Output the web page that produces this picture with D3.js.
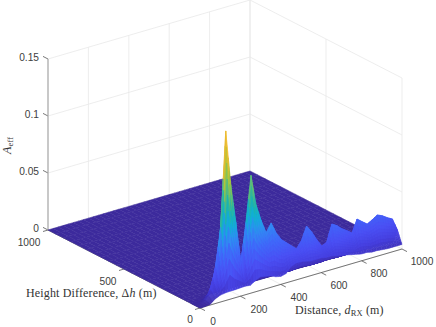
<!DOCTYPE html>
<html>
<head>
<meta charset="utf-8">
<style>
  html, body { margin: 0; padding: 0; background: #fff; }
  svg { display: block; }
  .tick { font-family: "Liberation Sans", Arial, sans-serif; font-size: 10.2px; fill: #404040; }
  .lab { font-family: "Liberation Serif", serif; font-size: 12px; letter-spacing: 0.15px; fill: #333; }
</style>
<script src="https://cdn.jsdelivr.net/npm/d3@7"></script>
</head>
<body>
<svg id="chart" width="436" height="327"></svg>
<script>
const distances = [0, 25, 50, 75, 100, 125, 150, 175, 200, 225, 250, 275, 300, 325, 350, 375, 400, 425, 450, 475, 500,
  525, 550, 575, 600, 625, 650, 675, 700, 725, 750, 775, 800, 825, 850, 875, 900, 925, 950, 975, 1000];
// near edge of the surface, h = 0
const zFront = [0, 0, .0005, .004, .006, .0067, .007, .007, .0073, .0075, .007, .01, .012, .011, .01, .008, .007, .008, .013, .015, .015,
  .014, .013, .013, .013, .012, .012, .011, .01, .009, .008, .007, .006, .006, .005, .005, .0045, .004, .004, .004, .004];
// the ridge, h = 30
const zRidge = [0, .0005, .002, .01, .029, .0625, .1455, .097, .063, .025, .06, .1, .073, .058, .046, .053, .043, .036, .032, .028, .024,
  .03, .0414, .035, .027, .02, .022, .0367, .034, .03, .027, .0237, .0346, .031, .0276, .03, .033, .031, .028, .0256, .0146];
// falling off behind the ridge, h = 60
const zTail = [0, 0, 0, .001, .004, .008, .012, .01, .008, .005, .007, .009, .008, .007, .006, .006, .005, .005, .004, .004, .003,
  .004, .005, .004, .003, .003, .003, .004, .004, .003, .003, .003, .004, .003, .003, .003, .004, .003, .003, .003, .002];
const zFlat = distances.map(() => 0);
const heights = [0, 30, 60, 90, 120, 160, 200, 250, 300, 350, 400, 450, 500, 550, 600, 650, 700, 750, 800, 850, 900, 950, 1000];
const zRows = heights.map((h, i) => i === 0 ? zFront : i === 1 ? zRidge : i === 2 ? zTail : zFlat);

const distTicks = [0, 200, 400, 600, 800, 1000];
const heightTicks = [0, 500, 1000];
const zTicks = [0, 0.05, 0.1, 0.15];
const zTickLabels = ["0", "0.05", "0.1", "0.15"];

const svg = d3.select("#chart");

// oblique 3d view, three scales added up
const dX = d3.scaleLinear().domain([0, 1000]).range([0, 202]);
const dY = d3.scaleLinear().domain([0, 1000]).range([0, -59]);
const hX = d3.scaleLinear().domain([0, 1000]).range([0, -152]);
const hY = d3.scaleLinear().domain([0, 1000]).range([0, -78]);
const zY = d3.scaleLinear().domain([0, 0.15]).range([0, -171]);
const px = (d, h) => 200 + dX(d) + hX(h);
const py = (d, h, z) => 308 + dY(d) + hY(h) + zY(z);

const parula = d3.scaleLinear()
  .domain([0, .03, .08, .15, .25, .35, .42, .5, .6, .7, .8, .9, 1].map(t => t * 0.148))
  .range(["#3c2a9c", "#4034c0", "#4640e0", "#4a50f4", "#4068fa", "#2f8ef2", "#0fafd7", "#1eb4aa", "#64be73", "#abc739", "#e6bb32", "#fec338", "#f9fb15"])
  .clamp(true);

// walls and floor grid
const grid = svg.append("g").attr("fill", "none").attr("stroke", "#e8e8e8").attr("stroke-width", 0.8);
const seg = (a, b) => grid.append("line")
  .attr("x1", px(a[0], a[1])).attr("y1", py(a[0], a[1], a[2]))
  .attr("x2", px(b[0], b[1])).attr("y2", py(b[0], b[1], b[2]));
distTicks.forEach(d => {
  seg([d, 1000, 0], [d, 1000, 0.15]);
  seg([d, 0, 0], [d, 1000, 0]);
});
heightTicks.forEach(h => {
  seg([1000, h, 0], [1000, h, 0.15]);
  seg([0, h, 0], [1000, h, 0]);
});
zTicks.forEach(z => {
  seg([0, 1000, z], [1000, 1000, z]);
  seg([1000, 1000, z], [1000, 0, z]);
});

// axis lines
const axes = svg.append("g").attr("stroke", "#555").attr("stroke-width", 0.8);
const axisSeg = (x1, y1, x2, y2) => axes.append("line")
  .attr("x1", x1).attr("y1", y1).attr("x2", x2).attr("y2", y2);
axisSeg(px(0, 0), py(0, 0, 0), px(1000, 0), py(1000, 0, 0));
axisSeg(px(0, 0), py(0, 0, 0), px(0, 1000), py(0, 1000, 0));
distTicks.forEach(d => axisSeg(px(d, 0), py(d, 0, 0), px(d, 0) + 5, py(d, 0, 0) + 2.6));
heightTicks.forEach(h => axisSeg(px(0, h), py(0, h, 0), px(0, h) - 5, py(0, h, 0) + 1.5));
zTicks.forEach(z => axisSeg(px(0, 1000), py(0, 1000, z), px(0, 1000) - 5, py(0, 1000, z) - 2.6));
axes.append("line")
  .attr("x1", px(0, 1000)).attr("y1", py(0, 1000, 0))
  .attr("x2", px(0, 1000)).attr("y2", py(0, 1000, 0.15))
  .attr("stroke", "#aaa").attr("stroke-width", 1.2);

// surface, far cells first
const surf = svg.append("g");
for (let j = heights.length - 2; j >= 0; j--) {
  for (let i = distances.length - 2; i >= 0; i--) {
    const z00 = zRows[j][i], z10 = zRows[j][i + 1], z01 = zRows[j + 1][i], z11 = zRows[j + 1][i + 1];
    const flat = z00 + z10 + z01 + z11 === 0;
    const nu = flat ? 1 : 2, nv = flat ? 1 : 10; // split cells for the smooth shading
    for (let v = nv - 1; v >= 0; v--) {
      for (let u = nu - 1; u >= 0; u--) {
        const pts = [[u, v], [u + 1, v], [u + 1, v + 1], [u, v + 1]].map(([a, b]) => {
          const s = a / nu, t = b / nv;
          const d = distances[i] + s * (distances[i + 1] - distances[i]);
          const h = heights[j] + t * (heights[j + 1] - heights[j]);
          const z = (1 - s) * (1 - t) * z00 + s * (1 - t) * z10 + (1 - s) * t * z01 + s * t * z11;
          return { x: px(d, h), y: py(d, h, z), z };
        });
        const c = parula(d3.mean(pts, p => p.z));
        surf.append("polygon")
          .attr("points", pts.map(p => `${p.x},${p.y}`).join(" "))
          .attr("fill", c)
          .attr("stroke", c)
          .attr("stroke-width", 0.5);
      }
    }
  }
}

// tick labels
const distLabelPos = [[213, 321], [259, 309], [299, 297], [339, 285], [379, 273], [422, 261]];
const heightLabelPos = [[190, 319], [108, 281], [29, 242]];
distTicks.forEach((d, i) => svg.append("text").attr("class", "tick").attr("text-anchor", "middle")
  .attr("dominant-baseline", "central").attr("x", distLabelPos[i][0]).attr("y", distLabelPos[i][1]).text(d));
heightTicks.forEach((h, i) => svg.append("text").attr("class", "tick").attr("text-anchor", "middle")
  .attr("dominant-baseline", "central").attr("x", heightLabelPos[i][0]).attr("y", heightLabelPos[i][1]).text(h));
zTicks.forEach((z, i) => svg.append("text").attr("class", "tick").attr("text-anchor", "end")
  .attr("dominant-baseline", "central").attr("x", 39).attr("y", py(0, 1000, z) - 2).text(zTickLabels[i]));

// axis titles
const heightTitle = svg.append("text").attr("class", "lab").attr("x", 26).attr("y", 297);
heightTitle.append("tspan").text("Height Difference, Δ");
heightTitle.append("tspan").attr("font-style", "italic").text("h");
heightTitle.append("tspan").text(" (m)");

const distTitle = svg.append("text").attr("class", "lab").attr("x", 295).attr("y", 314);
distTitle.append("tspan").text("Distance, ");
distTitle.append("tspan").attr("font-style", "italic").text("d");
distTitle.append("tspan").attr("font-size", 8.5).attr("dy", 2).text("RX");
distTitle.append("tspan").attr("dy", -2).text(" (m)");

const zTitle = svg.append("text").attr("class", "lab").attr("transform", "translate(11,154) rotate(-90)");
zTitle.append("tspan").attr("font-style", "italic").text("A");
zTitle.append("tspan").attr("font-size", 8.5).attr("dy", 2).text("eff");
</script>
</body>
</html>
